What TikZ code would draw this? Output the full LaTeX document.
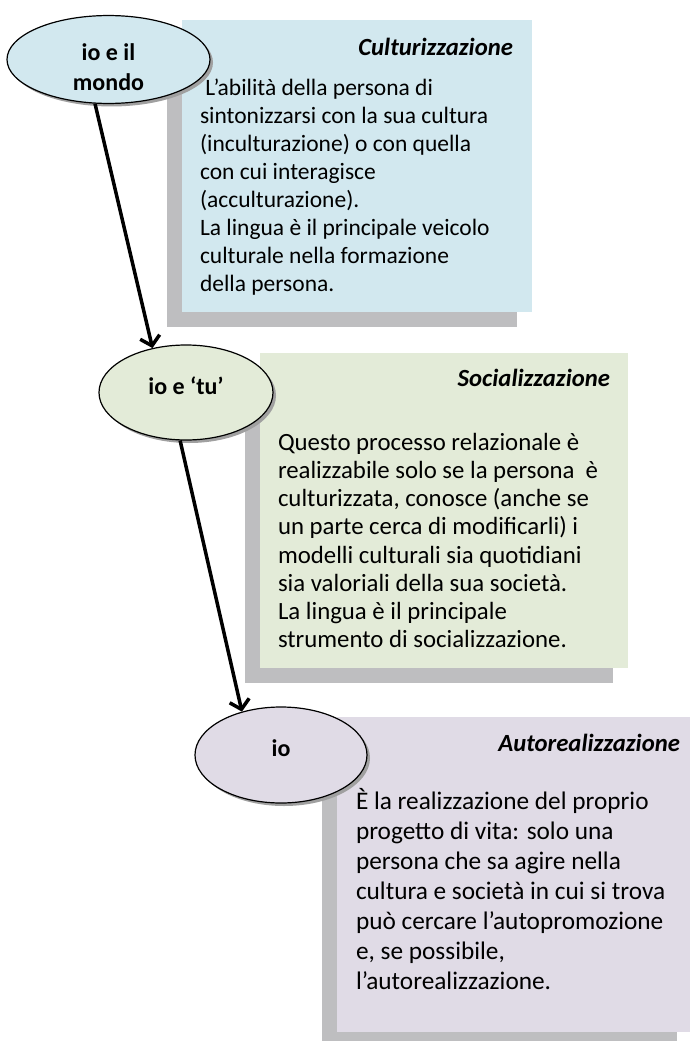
\documentclass[tikz,border=0pt]{standalone}
\usepackage{fontspec}
\setmainfont{Carlito}
\usetikzlibrary{shapes.geometric,shadows,arrows.meta,positioning}
\definecolor{cultblue}{RGB}{210,232,239}
\definecolor{socgreen}{RGB}{227,235,216}
\definecolor{autpurple}{RGB}{224,219,230}
\definecolor{shadowgrey}{RGB}{190,190,192}
\definecolor{ellshadow}{RGB}{160,160,160}
\tikzstyle{bubble}=[ellipse,draw,line width=1.2pt,inner sep=0pt,align=center,font=\bfseries\fontsize{24}{30}\selectfont,general shadow={fill=ellshadow,shadow xshift=3pt,shadow yshift=-3pt}]
\tikzstyle{card}=[rectangle,inner sep=0pt,general shadow={fill=shadowgrey,shadow xshift=-15pt,shadow yshift=-15pt}]
\tikzstyle{cardtitle}=[inner sep=0pt,anchor=east,font=\bfseries\itshape\fontsize{24.7}{28}\selectfont]
\tikzstyle{cardtext}=[inner sep=0pt,anchor=north west,align=left,font=\fontsize{23.5}{28}\selectfont]
\tikzstyle{flow}=[line width=3.5pt,-{Straight Barb[length=9pt,width=20pt]}]

\begin{document}
\begin{tikzpicture}[x=1pt,y=-1pt]
		\useasboundingbox (0,0) rectangle (690,1041);
		% boxes
		\node [card, fill=cultblue, minimum width=350pt, minimum height=292pt] (cult) at (357,166) {};
		\node [cardtitle] (cultTitle) at ([xshift=-19pt,yshift=-27pt]cult.north east) {Culturizzazione};
		\node [cardtext] (cultText) at ([xshift=18pt,yshift=-59pt]cult.north west) {\ L’abilità della persona di\\sintonizzarsi con la sua cultura\\(inculturazione) o con quella\\con cui interagisce\\(acculturazione).\\La lingua è il principale veicolo\\culturale nella formazione\\della persona.};

		\node [card, fill=socgreen, minimum width=368pt, minimum height=315pt] (social) at (444,510.5) {};
		\node [cardtitle] (socialTitle) at ([xshift=-18pt,yshift=-25pt]social.north east) {Socializzazione};
		\node [cardtext, font=\fontsize{24.8}{28.2}\selectfont] (socialText) at ([xshift=18pt,yshift=-80pt]social.north west) {Questo processo relazionale è\\realizzabile solo se la persona\ \ è\\culturizzata, conosce (anche se\\un parte cerca di modificarli) i\\modelli culturali sia quotidiani\\sia valoriali della sua società.\\La lingua è il principale\\strumento di socializzazione.};

		\node [card, fill=autpurple, minimum width=355pt, minimum height=315pt] (autoreal) at (514.5,874.5) {};
		\node [cardtitle] (autorealTitle) at ([xshift=-12pt,yshift=-26pt]autoreal.north east) {Autorealizzazione};
		\node [cardtext, font=\fontsize{25.3}{30}\selectfont] (autorealText) at ([xshift=19pt,yshift=-71pt]autoreal.north west) {È la realizzazione del proprio\\progetto di vita: solo una\\persona che sa agire nella\\cultura e società in cui si trova\\può cercare l’autopromozione\\e, se possibile,\\l’autorealizzazione.};

		% ellipses
		\node [bubble, fill=cultblue, minimum width=203pt, minimum height=75pt, text height=62pt] (mondo) at (108.5,59.5) {io e il\\mondo};
		\node [bubble, fill=socgreen, minimum width=174pt, minimum height=95pt, text depth=14pt] (tu) at (186,392.5) {io e ‘tu’};
		\node [bubble, fill=autpurple, minimum width=172pt, minimum height=96pt, text depth=14pt] (io) at (281,755) {io};

		\draw [flow] (mondo.253) -- (tu.127);
		\draw [flow] (tu.263) -- (io.132);
	\end{tikzpicture}
\end{document}
